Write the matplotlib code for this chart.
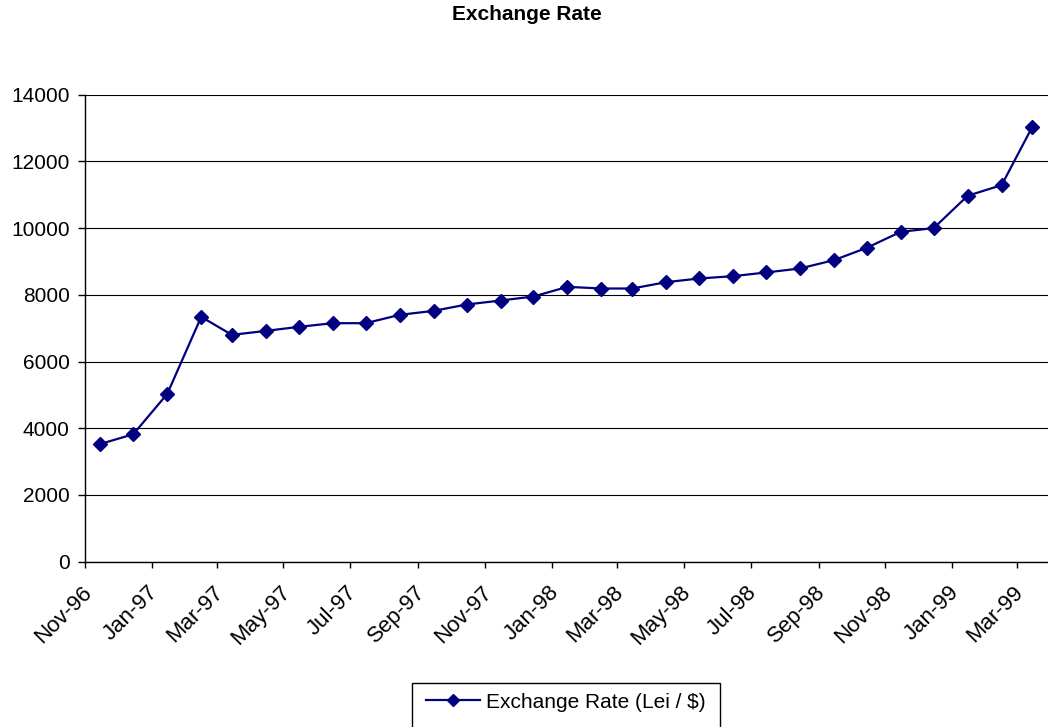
import numpy as np
import pandas as pd
import matplotlib
matplotlib.use("Agg")
import matplotlib.pyplot as plt
import matplotlib.dates as mdates
import matplotlib.transforms as mtransforms
from matplotlib.patches import Rectangle

plt.rcParams['font.family'] = ['Liberation Sans', 'DejaVu Sans']

# monthly exchange rate, lei per US dollar
months = ["1996-11", "1996-12",
          "1997-01", "1997-02", "1997-03", "1997-04", "1997-05", "1997-06",
          "1997-07", "1997-08", "1997-09", "1997-10", "1997-11", "1997-12",
          "1998-01", "1998-02", "1998-03", "1998-04", "1998-05", "1998-06",
          "1998-07", "1998-08", "1998-09", "1998-10", "1998-11", "1998-12",
          "1999-01", "1999-02", "1999-03"]
rate = [3530, 3820,
        5030, 7340, 6800, 6920, 7040, 7150,
        7150, 7400, 7520, 7710, 7830, 7950,
        8240, 8190, 8190, 8380, 8490, 8560,
        8670, 8790, 9040, 9410, 9890, 10000,
        10970, 11290, 13040]
series_name = "Exchange Rate (Lei / $)"
title = "Exchange Rate"

# points sit in the middle of each month
dates = pd.to_datetime(months) + pd.Timedelta(days=14)

W, H = 1048, 727
fig = plt.figure(figsize=(W / 100, H / 100), dpi=100)
ax = fig.add_axes([85 / W, 1 - 561.7 / H, (1051 - 85) / W, (561.7 - 94.7) / H])

line, = ax.plot(dates, rate, color="#000080", lw=1.6, marker="D", ms=7.5,
                mfc="#000080", mec="#000080", label=series_name, zorder=3)

ax.set_xlim(pd.Timestamp("1996-11-01"), pd.Timestamp("1999-04-01"))
ax.set_ylim(0, 14000)
ax.set_yticks(np.arange(0, 14001, 2000))
ax.yaxis.grid(True, color="black", lw=0.8)
ax.set_axisbelow(True)

ax.xaxis.set_major_locator(mdates.MonthLocator(bymonth=[1, 3, 5, 7, 9, 11]))
ax.xaxis.set_major_formatter(mdates.DateFormatter("%b-%y"))

for s in ["top", "right"]:
    ax.spines[s].set_visible(False)
for s in ["left", "bottom"]:
    ax.spines[s].set_linewidth(1.0)
    ax.spines[s].set_color("black")

ax.tick_params(axis="y", length=5, width=1, labelsize=15, pad=6)
ax.tick_params(axis="x", length=4.5, width=1, labelsize=16, pad=10)
shift = mtransforms.ScaledTranslation(-4 / 100, 0, fig.dpi_scale_trans)
for lbl in ax.get_xticklabels():
    lbl.set_rotation(45)
    lbl.set_ha("right")
    lbl.set_va("top")
    lbl.set_rotation_mode("anchor")
    lbl.set_transform(lbl.get_transform() + shift)

fig.text(526.7 / W, 1 - 15 / H, title, ha="center", va="center",
         fontsize=15, fontweight="bold")

leg = fig.legend(handles=[line], loc="center", bbox_to_anchor=(566 / W, 1 - 702 / H),
                 frameon=False, fontsize=15, handlelength=2.6, handletextpad=0.3,
                 markerscale=0.85)
fig.add_artist(Rectangle((412 / W, 1 - 745 / H), (720 - 412) / W, (745 - 683) / H,
                         transform=fig.transFigure, fill=False, edgecolor="#000000",
                         lw=1.0, clip_on=False))

fig.savefig("out.png", dpi=100)
